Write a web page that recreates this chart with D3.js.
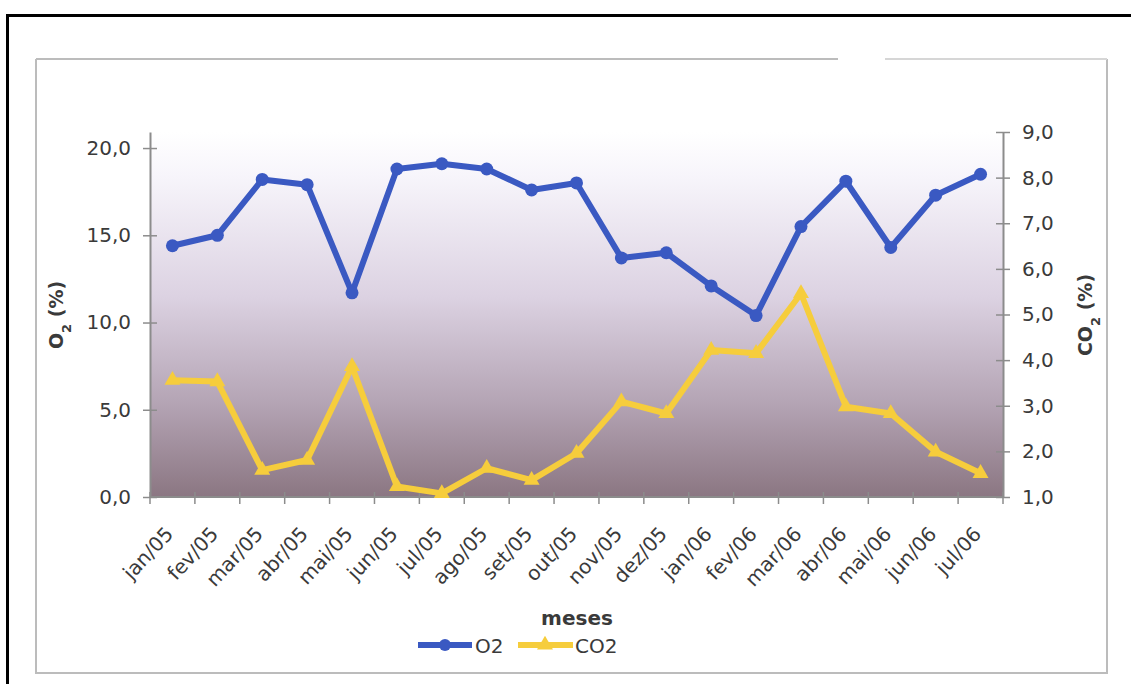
<!DOCTYPE html>
<html>
<head>
<meta charset="utf-8">
<script src="https://cdn.jsdelivr.net/npm/d3@7/dist/d3.min.js"></script>
<style>
  html, body { margin: 0; padding: 0; background: #fff; }
  svg { display: block; }
  text { font-family: "DejaVu Sans", "Liberation Sans", Arial, sans-serif; fill: #3a3a3a; }
</style>
</head>
<body>
<svg id="chart" width="1131" height="684"></svg>
<script>
// Monthly gas readings (%)
const months = ["jan/05","fev/05","mar/05","abr/05","mai/05","jun/05","jul/05","ago/05","set/05","out/05",
                "nov/05","dez/05","jan/06","fev/06","mar/06","abr/06","mai/06","jun/06","jul/06"];
const o2  = [14.4, 15.0, 18.2, 17.9, 11.7, 18.8, 19.1, 18.8, 17.6, 18.0,
             13.7, 14.0, 12.1, 10.4, 15.5, 18.1, 14.3, 17.3, 18.5];
const co2 = [3.56, 3.53, 1.59, 1.81, 3.86, 1.23, 1.08, 1.63, 1.37, 1.96,
             3.09, 2.83, 4.22, 4.15, 5.46, 2.98, 2.83, 1.99, 1.52];
const o2Ticks  = [0, 5, 10, 15, 20];
const co2Ticks = [1, 2, 3, 4, 5, 6, 7, 8, 9];

const svg = d3.select("#chart");
const plot = { left: 150, right: 1003, top: 132, bottom: 497 };

const x = d3.scaleBand().domain(months).range([plot.left, plot.right]).padding(0);
const yL = d3.scaleLinear().domain([0, 20.92]).range([plot.bottom, plot.top]);
const yR = d3.scaleLinear().domain([1, 9]).range([plot.bottom, plot.top]);
const fmt = v => d3.format(".1f")(v).replace(".", ",");

// outer frame
svg.append("rect").attr("x", 7.5).attr("y", 15.5).attr("width", 1140).attr("height", 700)
  .attr("fill", "none").attr("stroke", "#000").attr("stroke-width", 3);

// chart area border
const box = { l: 36, t: 59, r: 1107, b: 673 };
const g0 = svg.append("g").attr("fill", "none").attr("stroke-width", 2);
g0.append("path").attr("stroke", "#bcbcbc")
  .attr("d", `M${box.l},${box.t}H838M${box.l},${box.t}V${box.b}H${box.r}V${box.t}`);
g0.append("path").attr("stroke", "#d6d6d6").attr("d", `M885,${box.t}H${box.r}`);

// plot background gradient
const defs = svg.append("defs");
const grad = defs.append("linearGradient").attr("id", "bg").attr("x1", 0).attr("y1", 0).attr("x2", 0).attr("y2", 1);
[[0, "#ffffff"], [0.12, "#f7f5fb"], [0.45, "#dcd2e2"], [0.75, "#b3a3b3"], [1, "#8b7682"]]
  .forEach(([o, c]) => grad.append("stop").attr("offset", o).attr("stop-color", c));
svg.append("rect").attr("x", plot.left).attr("y", plot.top)
  .attr("width", plot.right - plot.left).attr("height", plot.bottom - plot.top)
  .attr("fill", "url(#bg)");

// axes
function styleAxis(g) {
  g.select(".domain").attr("stroke", "#8c8c8c").attr("stroke-width", 2);
  g.selectAll(".tick line").attr("stroke", "#8c8c8c").attr("stroke-width", 1.5);
  g.selectAll(".tick text").attr("fill", "#3a3a3a").style("font-size", "20px")
    .style("font-family", "'DejaVu Sans', sans-serif");
}

const axL = svg.append("g").attr("transform", `translate(${plot.left},0)`)
  .call(d3.axisLeft(yL).tickValues(o2Ticks).tickFormat(fmt).tickSizeInner(7).tickSizeOuter(0).tickPadding(12));
styleAxis(axL);
axL.selectAll(".tick line").attr("x2", 7).attr("x1", -7);

const axR = svg.append("g").attr("transform", `translate(${plot.right},0)`)
  .call(d3.axisRight(yR).tickValues(co2Ticks).tickFormat(fmt).tickSizeInner(7).tickSizeOuter(0).tickPadding(12));
styleAxis(axR);
axR.selectAll(".tick line").attr("x1", -7).attr("x2", 7);

// category boundaries on the x axis
const bounds = months.map(m => x(m)).concat([plot.right]);
const axB = svg.append("g");
axB.append("line").attr("x1", plot.left).attr("x2", plot.right)
  .attr("y1", plot.bottom).attr("y2", plot.bottom)
  .attr("stroke", "#8c8c8c").attr("stroke-width", 2);
axB.selectAll("line.tk").data(bounds).join("line").attr("class", "tk")
  .attr("x1", d => d).attr("x2", d => d)
  .attr("y1", plot.bottom - 5).attr("y2", plot.bottom + 7)
  .attr("stroke", "#8c8c8c").attr("stroke-width", 1.5);
axB.selectAll("text").data(months).join("text")
  .attr("transform", d => `translate(${x(d) + x.bandwidth() / 2 + 2},${plot.bottom + 38}) rotate(-47)`)
  .attr("text-anchor", "end")
  .style("font-size", "20px")
  .text(d => d);

// axis titles
svg.append("text").attr("transform", `translate(63,315) rotate(-90)`)
  .attr("text-anchor", "middle").style("font-size", "19px").style("font-weight", "bold")
  .html('O<tspan baseline-shift="sub" font-size="13px">2</tspan> (%)');
svg.append("text").attr("transform", `translate(1092,315) rotate(-90)`)
  .attr("text-anchor", "middle").style("font-size", "19px").style("font-weight", "bold")
  .html('CO<tspan baseline-shift="sub" font-size="13px">2</tspan> (%)');
svg.append("text").attr("x", 577).attr("y", 625).attr("text-anchor", "middle")
  .style("font-size", "20px").style("font-weight", "bold").text("meses");

// series
const cx = d => x(d) + x.bandwidth() / 2;
const blue = "#3a59c2", yellow = "#f6cd3c";
const lineO2 = d3.line().x((d, i) => cx(months[i])).y(d => yL(d));
const lineCO2 = d3.line().x((d, i) => cx(months[i])).y(d => yR(d));
const tri = d3.symbol().type(d3.symbolTriangle).size(110);

svg.append("path").datum(o2).attr("d", lineO2).attr("fill", "none")
  .attr("stroke", blue).attr("stroke-width", 6).attr("stroke-linejoin", "round");
svg.append("g").selectAll("circle").data(o2).join("circle")
  .attr("cx", (d, i) => cx(months[i])).attr("cy", d => yL(d)).attr("r", 6.5).attr("fill", blue);

svg.append("path").datum(co2).attr("d", lineCO2).attr("fill", "none")
  .attr("stroke", yellow).attr("stroke-width", 6).attr("stroke-linejoin", "round");
svg.append("g").selectAll("path").data(co2).join("path")
  .attr("transform", (d, i) => `translate(${cx(months[i])},${yR(d)})`)
  .attr("d", tri).attr("fill", yellow);

// legend
const lg = svg.append("g").attr("transform", "translate(0,645)");
lg.append("line").attr("x1", 418).attr("x2", 472).attr("stroke", blue).attr("stroke-width", 6);
lg.append("circle").attr("cx", 445).attr("r", 6).attr("fill", blue);
lg.append("text").attr("x", 475).attr("y", 8).style("font-size", "20px").text("O2");
lg.append("line").attr("x1", 518).attr("x2", 573).attr("stroke", yellow).attr("stroke-width", 6);
lg.append("path").attr("transform", "translate(545,0)").attr("d", tri).attr("fill", yellow);
lg.append("text").attr("x", 575).attr("y", 8).style("font-size", "20px").text("CO2");
</script>
</body>
</html>
